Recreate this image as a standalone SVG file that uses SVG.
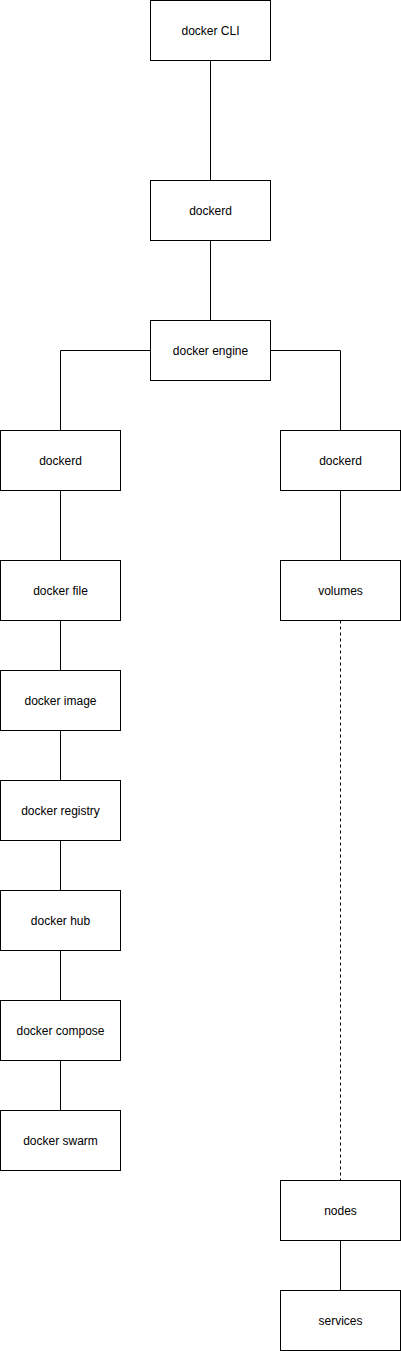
<svg xmlns="http://www.w3.org/2000/svg" width="401" height="1351" viewBox="0 0 401 1351">
<style>
.box{fill:#ffffff;stroke:#000000;stroke-width:1}
.lbl{font-family:"Liberation Sans",Arial,sans-serif;font-size:12px;fill:#000000;text-anchor:middle;dominant-baseline:central}
.edge{fill:none;stroke:#000000;stroke-width:1}
.dash{stroke-dasharray:3 3}
</style>
<rect width="401" height="1351" fill="#ffffff"/>
<g id="connectors">
<path class="edge" d="M210.5 60.5V180.5"/>
<path class="edge" d="M210.5 240.5V320.5"/>
<path class="edge" d="M150.5 350.5H60.5V430.5"/>
<path class="edge" d="M270.5 350.5H340.5V430.5"/>
<path class="edge" d="M60.5 490.5V560.5"/>
<path class="edge" d="M340.5 490.5V560.5"/>
<path class="edge" d="M60.5 620.5V670.5"/>
<path class="edge" d="M60.5 730.5V780.5"/>
<path class="edge" d="M60.5 840.5V890.5"/>
<path class="edge" d="M60.5 950.5V1000.5"/>
<path class="edge" d="M60.5 1060.5V1110.5"/>
<path class="edge dash" d="M340.5 620.5V1180.5"/>
<path class="edge" d="M340.5 1240.5V1290.5"/>
</g>
<g id="docker-cli"><rect class="box" x="150.5" y="0.5" width="120" height="60"/><text class="lbl" x="210.5" y="30.5">docker CLI</text></g>
<g id="dockerd-top"><rect class="box" x="150.5" y="180.5" width="120" height="60"/><text class="lbl" x="210.5" y="210.5">dockerd</text></g>
<g id="docker-engine"><rect class="box" x="150.5" y="320.5" width="120" height="60"/><text class="lbl" x="210.5" y="350.5">docker engine</text></g>
<g id="dockerd-left"><rect class="box" x="0.5" y="430.5" width="120" height="60"/><text class="lbl" x="60.5" y="460.5">dockerd</text></g>
<g id="dockerd-right"><rect class="box" x="280.5" y="430.5" width="120" height="60"/><text class="lbl" x="340.5" y="460.5">dockerd</text></g>
<g id="docker-file"><rect class="box" x="0.5" y="560.5" width="120" height="60"/><text class="lbl" x="60.5" y="590.5">docker file</text></g>
<g id="volumes"><rect class="box" x="280.5" y="560.5" width="120" height="60"/><text class="lbl" x="340.5" y="590.5">volumes</text></g>
<g id="docker-image"><rect class="box" x="0.5" y="670.5" width="120" height="60"/><text class="lbl" x="60.5" y="700.5">docker image</text></g>
<g id="docker-registry"><rect class="box" x="0.5" y="780.5" width="120" height="60"/><text class="lbl" x="60.5" y="810.5">docker registry</text></g>
<g id="docker-hub"><rect class="box" x="0.5" y="890.5" width="120" height="60"/><text class="lbl" x="60.5" y="920.5">docker hub</text></g>
<g id="docker-compose"><rect class="box" x="0.5" y="1000.5" width="120" height="60"/><text class="lbl" x="60.5" y="1030.5">docker compose</text></g>
<g id="docker-swarm"><rect class="box" x="0.5" y="1110.5" width="120" height="60"/><text class="lbl" x="60.5" y="1140.5">docker swarm</text></g>
<g id="nodes"><rect class="box" x="280.5" y="1180.5" width="120" height="60"/><text class="lbl" x="340.5" y="1210.5">nodes</text></g>
<g id="services"><rect class="box" x="280.5" y="1290.5" width="120" height="60"/><text class="lbl" x="340.5" y="1320.5">services</text></g>
</svg>
